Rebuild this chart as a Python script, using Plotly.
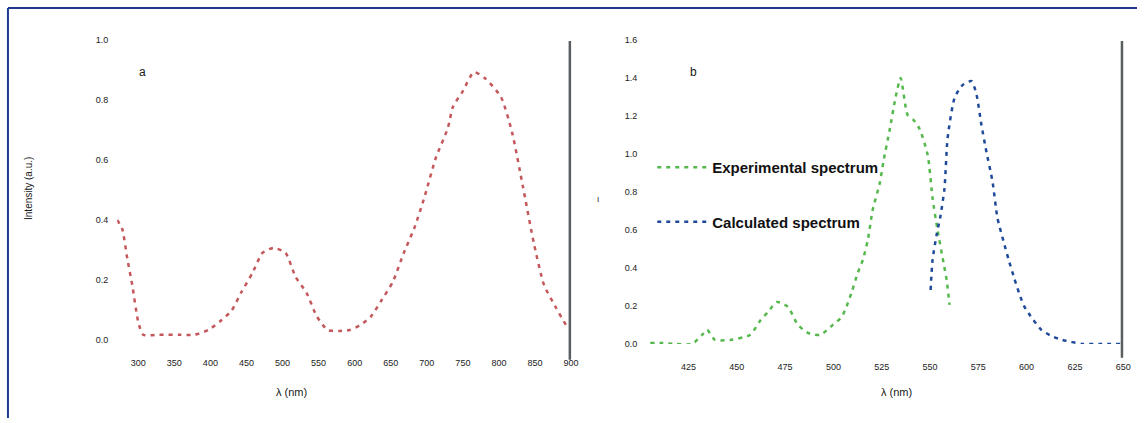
import plotly.graph_objects as go

# ---- data ----
left_x = [270.8, 277.8, 284.7, 291.7, 300.0, 306.9, 329.2, 356.9, 377.8, 397.2, 413.9, 429.2,
          443.1, 458.3, 472.2, 487.5, 504.2, 518.1, 533.3, 547.2, 562.5, 579.2, 593.1, 608.3,
          622.2, 637.5, 652.8, 668.1, 683.3, 697.2, 712.5, 729.2, 736.1, 750.0, 765.3, 780.6,
          802.8, 818.1, 833.3, 848.6, 862.5, 877.8, 893.1, 898.6]
left_y = [0.400, 0.370, 0.273, 0.183, 0.060, 0.017, 0.017, 0.017, 0.017, 0.033, 0.063, 0.097,
          0.160, 0.223, 0.290, 0.307, 0.290, 0.210, 0.157, 0.080, 0.033, 0.030, 0.033, 0.050,
          0.077, 0.133, 0.193, 0.290, 0.377, 0.480, 0.607, 0.707, 0.777, 0.830, 0.893, 0.873,
          0.810, 0.693, 0.510, 0.320, 0.183, 0.113, 0.050, 0.040]

green_x = [405.2, 410.3, 418.1, 426.9, 432.0, 434.6, 438.7, 446.5, 456.8, 462.0, 466.1, 470.8,
           476.4, 481.6, 486.8, 493.0, 499.7, 504.3, 506.9, 509.5, 512.6, 515.2, 517.8, 520.3,
           524.0, 526.0, 529.1, 532.2, 534.8, 538.4, 541.5, 544.6, 548.8, 551.3, 553.9, 557.0,
           558.6, 560.1]
green_y = [0.005, 0.005, 0.0, 0.0, 0.047, 0.074, 0.021, 0.021, 0.047, 0.121, 0.168, 0.221,
           0.195, 0.100, 0.058, 0.047, 0.100, 0.142, 0.200, 0.274, 0.374, 0.442, 0.547, 0.705,
           0.847, 0.968, 1.126, 1.300, 1.400, 1.205, 1.179, 1.132, 0.995, 0.768, 0.600, 0.426,
           0.337, 0.205]

blue_x = [550.3, 551.3, 553.4, 555.5, 557.5, 559.1, 562.7, 566.8, 571.5, 574.1, 576.6, 579.2,
          582.3, 584.9, 588.0, 590.6, 593.7, 596.8, 598.9, 602.0, 607.6, 612.8, 618.5, 628.8,
          637.6, 649.0]
blue_y = [0.284, 0.442, 0.574, 0.679, 0.821, 1.084, 1.295, 1.363, 1.384, 1.311, 1.153, 1.011,
          0.858, 0.663, 0.542, 0.447, 0.342, 0.247, 0.195, 0.147, 0.074, 0.042, 0.021, 0.0,
          0.0, 0.0]

left_xticks = [300, 350, 400, 450, 500, 550, 600, 650, 700, 750, 800, 850, 900]
left_yticks = [0.0, 0.2, 0.4, 0.6, 0.8, 1.0]
right_xticks = [425, 450, 475, 500, 525, 550, 575, 600, 625, 650]
right_yticks = [0.0, 0.2, 0.4, 0.6, 0.8, 1.0, 1.2, 1.4, 1.6]

series_names = ["Experimental spectrum", "Calculated spectrum"]

W, H = 1145, 423
# layout helpers: target pixel positions (as seen in the reference) -> paper fractions,
# corrected for the slight scaling observed in the rendered picture
def px(x):
    return ((x - 1.06) / 0.991) / W
def py(y):
    return (H - (y - 4.9) / 0.977) / H

FONT = "Liberation Sans, Arial"

fig = go.Figure()
fig.add_trace(go.Scatter(x=left_x, y=left_y, mode="lines", xaxis="x", yaxis="y",
                         line=dict(color="#c4575a", width=2.5, dash="4px,5px", shape="spline",
                                   smoothing=0.6),
                         showlegend=False))
fig.add_trace(go.Scatter(x=green_x, y=green_y, mode="lines", xaxis="x2", yaxis="y2",
                         name=series_names[0], legendgroup="g1",
                         line=dict(color="#55b84c", width=2.5, dash="4px,5px", shape="spline",
                                   smoothing=0.6)))
fig.add_trace(go.Scatter(x=blue_x, y=blue_y, mode="lines", xaxis="x2", yaxis="y2",
                         name=series_names[1], legendgroup="g2",
                         line=dict(color="#1f4a9a", width=2.5, dash="4px,5px", shape="spline",
                                   smoothing=0.6)))

tickfont = dict(family=FONT, size=9, color="#222222")
axis_common = dict(showgrid=False, zeroline=False, showline=False, ticks="",
                   tickfont=tickfont)

fig.update_layout(
    width=W, height=H, autosize=False,
    margin=dict(l=0, r=0, t=0, b=0),
    paper_bgcolor="white", plot_bgcolor="white",
    xaxis=dict(domain=[px(118), px(571)], range=[270.8, 900], tickvals=left_xticks,
               anchor="y", ticklabelstandoff=16, **axis_common),
    yaxis=dict(domain=[py(340), py(40)], range=[0, 1.0], tickvals=left_yticks,
               tickformat=".1f", anchor="x", ticklabelstandoff=8, **axis_common),
    xaxis2=dict(domain=[px(640), px(1122)], range=[400, 650], tickvals=right_xticks,
                anchor="y2", ticklabelstandoff=16, **axis_common),
    yaxis2=dict(domain=[py(344), py(40)], range=[0, 1.6], tickvals=right_yticks,
                tickformat=".1f", anchor="x2", ticklabelstandoff=2, **axis_common),
    legend=dict(x=px(652), y=py(151), xanchor="left", yanchor="top",
                bgcolor="rgba(0,0,0,0)", tracegroupgap=32, itemwidth=50,
                font=dict(family=FONT, size=15, color="#111111", weight="bold")),
    showlegend=True,
)

# frame lines and right-hand axis bars
shapes = [
    dict(type="line", xref="paper", yref="paper", x0=px(9), x1=1, y0=py(8), y1=py(8),
         line=dict(color="#1c3a8e", width=2)),
    dict(type="line", xref="paper", yref="paper", x0=px(9), x1=px(9), y0=py(8), y1=0,
         line=dict(color="#1c3a8e", width=2)),
    dict(type="line", xref="x", yref="paper", x0=900, x1=900, y0=py(41), y1=py(360),
         line=dict(color="#5a5e60", width=5)),
    dict(type="line", xref="x2", yref="paper", x0=650, x1=650, y0=py(41), y1=py(358),
         line=dict(color="#5a5e60", width=5)),
]
fig.update_layout(shapes=shapes)

def note(text, x, y, size=11, angle=0):
    fig.add_annotation(text=text, x=px(x), y=py(y), xref="paper", yref="paper",
                       xanchor="center", yanchor="middle", textangle=angle,
                       showarrow=False, font=dict(family=FONT, size=size, color="#1a1a1a"))

note("a", 143, 72, size=12)
note("b", 693, 72, size=12)
note("λ (nm)", 292, 392)
note("λ (nm)", 896, 392)
note("Intensity (a.u.)", 30, 188, size=10, angle=-90)
note("I", 598, 200, size=8)

post = (
    "document.documentElement.style.margin='0px';"
    "document.documentElement.style.overflow='hidden';"
    "document.body.style.margin='0px';"
    "document.body.style.overflow='hidden';"
)
fig.write_html("out.html", config={"displayModeBar": False}, post_script=post)
